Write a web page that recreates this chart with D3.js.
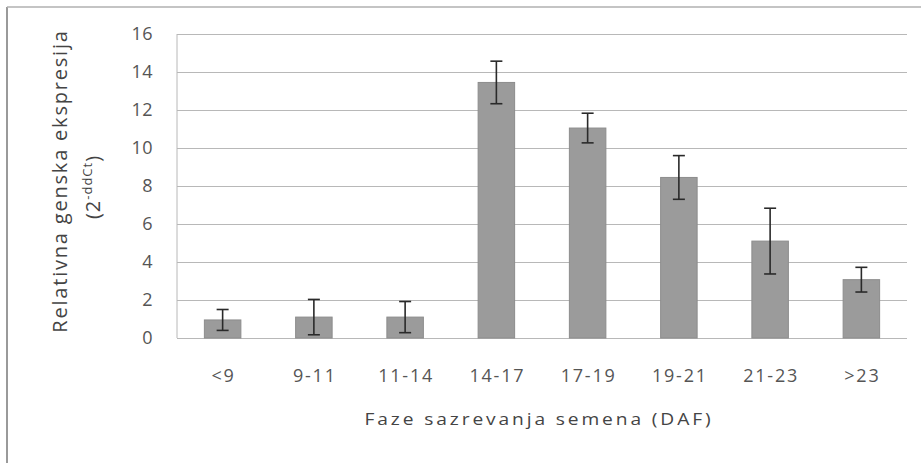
<!DOCTYPE html>
<html>
<head>
<meta charset="utf-8">
<script src="https://cdn.jsdelivr.net/npm/d3@7"></script>
<style>
body { margin:0; background:#fff; }
svg text { font-family: "Open Sans", sans-serif; }
</style>
</head>
<body>
<div id="canvase"></div>
<script>
var categories = ["<9", "9-11", "11-14", "14-17", "17-19", "19-21", "21-23", ">23"];
var values = [0.95, 1.1, 1.1, 13.45, 11.05, 8.45, 5.1, 3.07];
var errors = [0.55, 0.93, 0.82, 1.12, 0.78, 1.15, 1.73, 0.65];
var yTicks = [0, 2, 4, 6, 8, 10, 12, 14, 16];

var W = 921, H = 463;
var pLeft = 177, pRight = 907, pTop = 34, pBottom = 338;

var svg = d3.select("#canvase").append("svg")
            .attr("width", W)
            .attr("height", H);

svg.append("rect").attr("width", W).attr("height", H).style("fill", "#fff");

// outer frame (only left and top edges survive in the scan)
svg.append("line").attr("x1", 7).attr("x2", 7).attr("y1", 7).attr("y2", H)
   .attr("stroke", "#9a9a9a").attr("stroke-width", 2);
svg.append("line").attr("x1", 7).attr("x2", W).attr("y1", 7).attr("y2", 7)
   .attr("stroke", "#b0b0b0").attr("stroke-width", 1.5);

var x = d3.scaleBand()
          .domain(categories)
          .range([pLeft, pRight])
          .paddingInner(0.6)
          .paddingOuter(0.3);

var y = d3.scaleLinear()
          .domain([0, 16])
          .range([pBottom, pTop]);

// gridlines + y labels
var yAxis = svg.append("g")
               .attr("transform", "translate(" + pLeft + ",0)")
               .call(d3.axisLeft(y).tickValues(yTicks).tickSize(-(pRight - pLeft)).tickPadding(24));
yAxis.select(".domain").remove();
yAxis.selectAll(".tick line").attr("stroke", "#b8b8b8").attr("stroke-width", 1);
yAxis.selectAll(".tick text")
     .style("font-size", "18px")
     .style("letter-spacing", "0.5px")
     .style("fill", "#555");

// y axis line
svg.append("line").attr("x1", pLeft).attr("x2", pLeft).attr("y1", pTop).attr("y2", pBottom)
   .attr("stroke", "#b8b8b8");

// bars
svg.selectAll("rect.bar")
   .data(values)
   .enter()
   .append("rect")
   .attr("class", "bar")
   .attr("x", function(d, i) { return x(categories[i]); })
   .attr("y", function(d) { return y(d); })
   .attr("width", x.bandwidth())
   .attr("height", function(d) { return y(0) - y(d); })
   .style("fill", "#9b9b9b")
   .attr("stroke", "#8c8c8c");

// error bars
var eb = svg.selectAll("g.err")
            .data(values)
            .enter()
            .append("g")
            .attr("class", "err")
            .attr("stroke", "#2a2a2a")
            .attr("stroke-width", 1.6);
var cx = function(i) { return x(categories[i]) + x.bandwidth() / 2; };
eb.append("line")
  .attr("x1", function(d, i) { return cx(i); })
  .attr("x2", function(d, i) { return cx(i); })
  .attr("y1", function(d, i) { return y(d + errors[i]); })
  .attr("y2", function(d, i) { return y(d - errors[i]); });
eb.append("line")
  .attr("x1", function(d, i) { return cx(i) - 6; })
  .attr("x2", function(d, i) { return cx(i) + 6; })
  .attr("y1", function(d, i) { return y(d + errors[i]); })
  .attr("y2", function(d, i) { return y(d + errors[i]); });
eb.append("line")
  .attr("x1", function(d, i) { return cx(i) - 6; })
  .attr("x2", function(d, i) { return cx(i) + 6; })
  .attr("y1", function(d, i) { return y(d - errors[i]); })
  .attr("y2", function(d, i) { return y(d - errors[i]); });

// x labels
svg.selectAll("text.xl")
   .data(categories)
   .enter()
   .append("text")
   .attr("class", "xl")
   .text(function(d) { return d; })
   .attr("x", function(d) { return x(d) + x.bandwidth() / 2 + 1; })
   .attr("y", 382)
   .attr("text-anchor", "middle")
   .style("font-size", "18px")
   .style("letter-spacing", "1.8px")
   .style("fill", "#555");

// x title (the scan is a bit stretched sideways)
svg.append("text").text("Faze sazrevanja semena (DAF)")
   .attr("transform", "translate(539,425) scale(1.2,1)")
   .attr("text-anchor", "middle")
   .style("font-size", "16px")
   .style("letter-spacing", "2.4px")
   .style("fill", "#444");

// y title
var yt = svg.append("g").attr("transform", "translate(67,181) rotate(-90)");
yt.append("text").text("Relativna genska ekspresija")
  .attr("text-anchor", "middle")
  .style("font-size", "20px")
  .style("letter-spacing", "1.8px")
  .style("fill", "#444");
var yt2 = yt.append("text")
  .attr("x", -6)
  .attr("y", 33)
  .attr("text-anchor", "middle")
  .style("font-size", "20px")
  .style("letter-spacing", "1px")
  .style("fill", "#444");
yt2.append("tspan").text("(2");
yt2.append("tspan").text("-ddCt").attr("dy", -8).style("font-size", "13px");
yt2.append("tspan").text(")").attr("dy", 8);
</script>
</body>
</html>
